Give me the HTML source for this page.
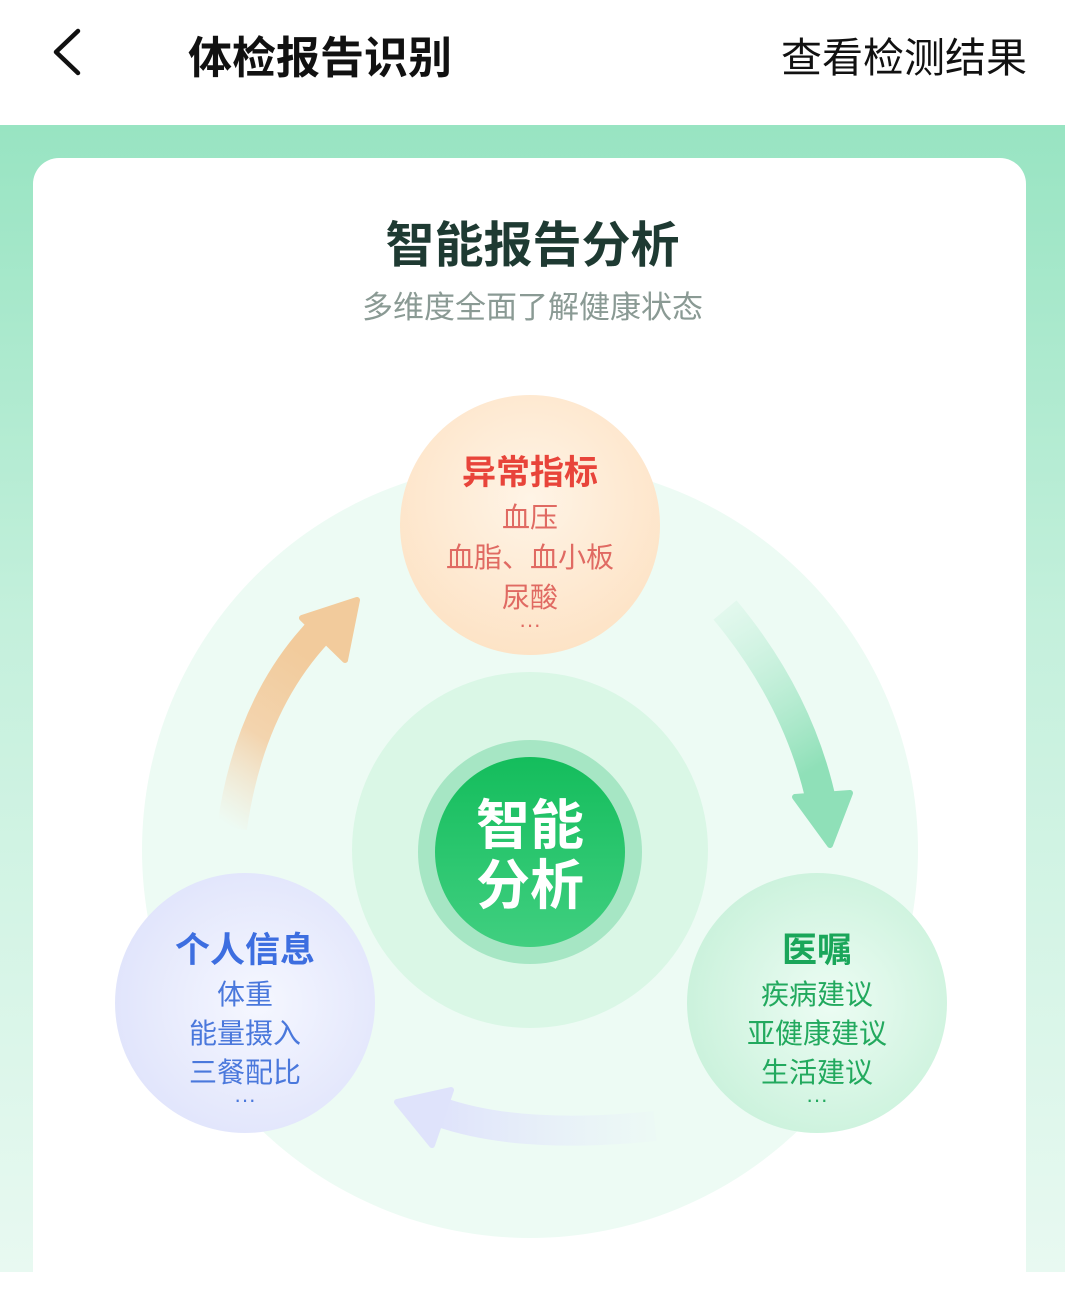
<!DOCTYPE html>
<html><head><meta charset="utf-8">
<style>
html,body{margin:0;padding:0;width:1065px;height:1272px;overflow:hidden;font-family:"Liberation Sans","Noto Sans CJK SC",sans-serif;}
.hdr{position:absolute;left:0;top:0;width:1065px;height:125px;background:#fff;}
.band{position:absolute;left:0;top:125px;width:1065px;height:1147px;background:linear-gradient(#98e4c2 0px,#c4f0dc 500px,#e8f9f1 1147px);}
.card{position:absolute;left:33px;top:158px;width:993px;height:1140px;background:#fff;border-radius:26px;}
.t{position:absolute;white-space:nowrap;}
</style></head><body>
<div class="hdr">
<svg style="position:absolute;left:50px;top:28px" width="34" height="48"><polyline points="28,3 6,24 28,45" fill="none" stroke="#111" stroke-width="4.5" stroke-linecap="round" stroke-linejoin="round"/></svg>
<div class="t" style="left:188px;top:22px;font-size:44px;font-weight:bold;color:#111;">体检报告识别</div>
<div class="t" style="left:781px;top:24px;font-size:41px;color:#111;">查看检测结果</div>
</div>
<div class="band"></div>
<div class="card"></div>
<div class="t" style="left:0;width:1065px;text-align:center;top:206px;font-size:49px;font-weight:bold;color:#1e3a32;">智能报告分析</div>
<div class="t" style="left:0;width:1065px;text-align:center;top:282px;font-size:31px;color:#8a9a94;">多维度全面了解健康状态</div>
<svg style="position:absolute;left:0;top:0" width="1065" height="1272">
<defs>
<radialGradient id="gOr" cx="0.5" cy="0.4" r="0.6"><stop offset="0" stop-color="#fff4e6"/><stop offset="1" stop-color="#fde3c6"/></radialGradient>
<radialGradient id="gBl" cx="0.55" cy="0.5" r="0.6"><stop offset="0" stop-color="#f5f7ff"/><stop offset="1" stop-color="#dfe3fb"/></radialGradient>
<radialGradient id="gGr" cx="0.55" cy="0.5" r="0.6"><stop offset="0" stop-color="#ecfcf3"/><stop offset="1" stop-color="#c8f1da"/></radialGradient>
<linearGradient id="gC" x1="0" y1="0" x2="0" y2="1"><stop offset="0" stop-color="#14bd5c"/><stop offset="1" stop-color="#40cf80"/></linearGradient>
<linearGradient id="aO" x1="0" y1="1" x2="0.3" y2="0" gradientUnits="objectBoundingBox"><stop offset="0" stop-color="#f5ddc0" stop-opacity="0"/><stop offset="0.5" stop-color="#f3d4ae"/><stop offset="1" stop-color="#f2cb9c"/></linearGradient>
<linearGradient id="aG" x1="0" y1="0" x2="0.3" y2="1"><stop offset="0" stop-color="#b6ecd2" stop-opacity="0.2"/><stop offset="1" stop-color="#8fe0b8"/></linearGradient>
<linearGradient id="aB" x1="1" y1="0" x2="0" y2="0"><stop offset="0" stop-color="#e6eafc" stop-opacity="0.1"/><stop offset="1" stop-color="#dfe3fb"/></linearGradient>
</defs>
<circle cx="530" cy="850" r="388" fill="#edfbf4"/>
<circle cx="530" cy="850" r="178" fill="#daf7e6"/>
<circle cx="530" cy="852" r="112" fill="#a6e6c4"/>
<circle cx="530" cy="852" r="95" fill="url(#gC)"/>
<path d="M232 828 Q250 700 325 625" fill="none" stroke="url(#aO)" stroke-width="30"/>
<polygon points="357,600 302,618 345,660" fill="#f2cb9c" stroke="#f2cb9c" stroke-width="6" stroke-linejoin="round"/>
<path d="M725 610 Q800 700 822 805" fill="none" stroke="url(#aG)" stroke-width="30"/>
<polygon points="795,797 850,793 830,845" fill="#8fe0b8" stroke="#8fe0b8" stroke-width="6" stroke-linejoin="round"/>
<path d="M655 1126 Q520 1140 440 1112" fill="none" stroke="url(#aB)" stroke-width="30"/>
<polygon points="397,1102 451,1090 432,1145" fill="#dfe3fb" stroke="#dfe3fb" stroke-width="6" stroke-linejoin="round"/>
<circle cx="530" cy="525" r="130" fill="url(#gOr)"/>
<circle cx="245" cy="1003" r="130" fill="url(#gBl)"/>
<circle cx="817" cy="1003" r="130" fill="url(#gGr)"/>
</svg>
<div class="t" style="left:430px;width:200px;text-align:center;top:796px;font-size:54px;font-weight:bold;color:#fff;line-height:60px;">智能<br>分析</div>
<div class="t" style="left:380px;width:300px;text-align:center;top:445px;font-size:34px;font-weight:bold;color:#e8443a;">异常指标</div>
<div class="t" style="left:380px;width:300px;text-align:center;top:498px;font-size:28px;color:#e06a62;line-height:40px;">血压<br>血脂、血小板<br>尿酸</div>
<div class="t" style="left:380px;width:300px;text-align:center;top:612px;font-size:22px;color:#e06a62;">···</div>
<div class="t" style="left:95px;width:300px;text-align:center;top:922px;font-size:35px;font-weight:bold;color:#3d6ee0;">个人信息</div>
<div class="t" style="left:95px;width:300px;text-align:center;top:975px;font-size:28px;color:#4a78dc;line-height:39px;">体重<br>能量摄入<br>三餐配比</div>
<div class="t" style="left:95px;width:300px;text-align:center;top:1087px;font-size:22px;color:#4a78dc;">···</div>
<div class="t" style="left:667px;width:300px;text-align:center;top:922px;font-size:35px;font-weight:bold;color:#1aa65a;">医嘱</div>
<div class="t" style="left:667px;width:300px;text-align:center;top:975px;font-size:28px;color:#22a95e;line-height:39px;">疾病建议<br>亚健康建议<br>生活建议</div>
<div class="t" style="left:667px;width:300px;text-align:center;top:1087px;font-size:22px;color:#22a95e;">···</div>
</body></html>
